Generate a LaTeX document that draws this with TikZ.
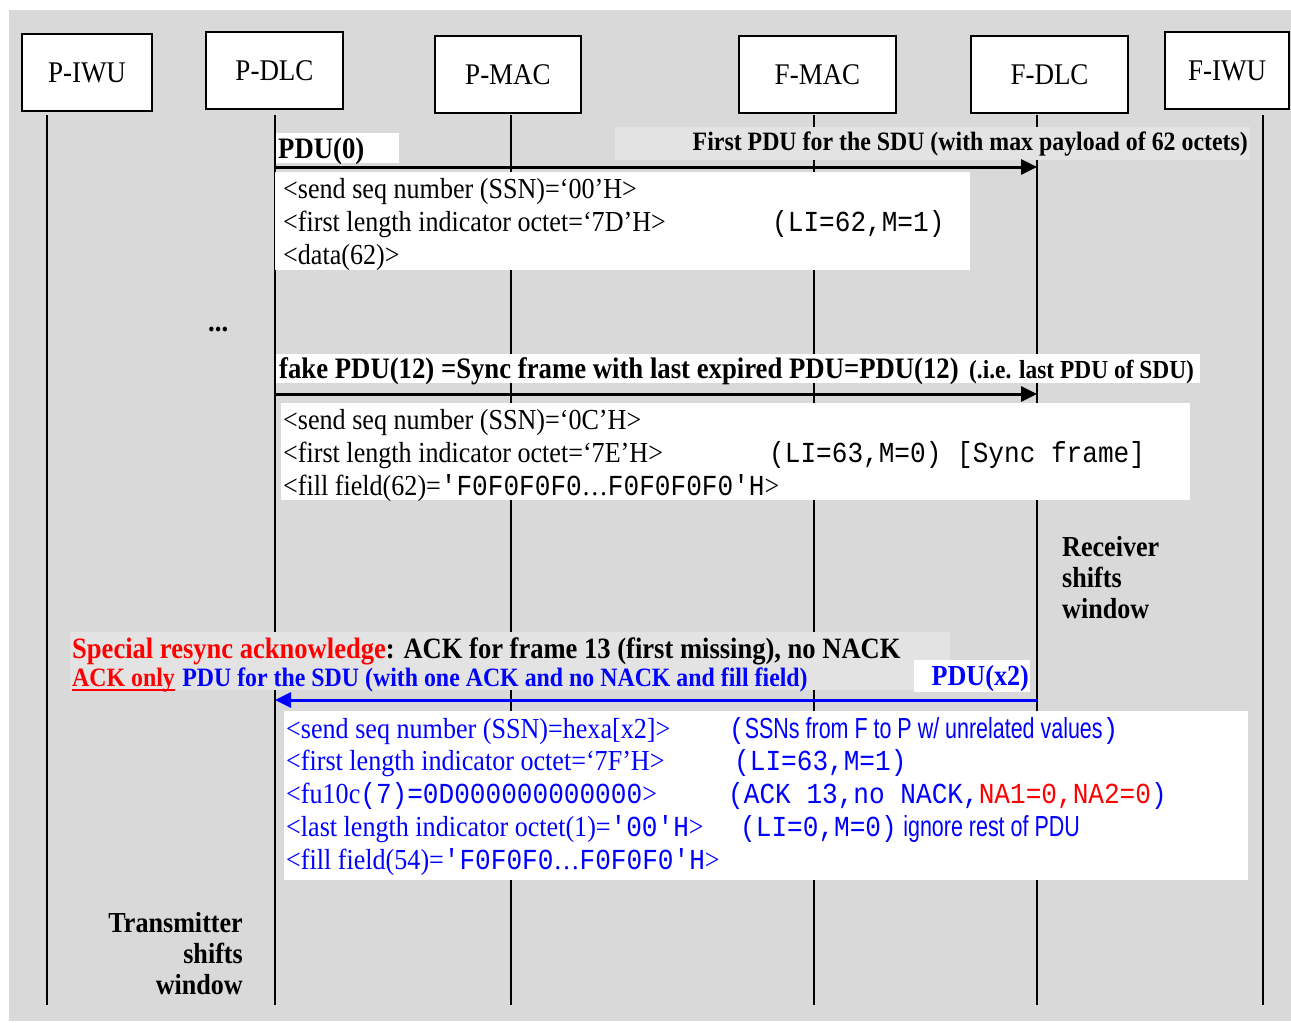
\documentclass[tikz,border=0pt]{standalone}
\usepackage{fontspec}
\setmainfont{Liberation Serif}[FakeStretch=0.9]
\setmonofont{Liberation Mono}[FakeStretch=0.9]
\newfontfamily\narrowsf{Liberation Sans}[FakeStretch=0.74]
\usetikzlibrary{arrows.meta,positioning}
\definecolor{bggray}{RGB}{217,217,217}
\definecolor{lightbox}{RGB}{227,227,227}
\tikzset{
  entity/.style={draw=black, line width=1.8pt, fill=white, inner sep=0pt,
    font=\fontsize{30}{36}\selectfont},
  lifeline/.style={line width=1.7pt},
  msg/.style={line width=3pt, -{Triangle[length=16pt,width=15pt]}},
  whitebox/.style={fill=white, inner sep=0pt, anchor=north west},
  greybox/.style={fill=lightbox, inner sep=0pt, anchor=north west},
  txt/.style={anchor=base west, inner sep=0pt, font=\fontsize{29}{33}\selectfont},
  bigbold/.style={txt, font=\fontsize{29.7}{33}\selectfont\bfseries},
  smallbold/.style={txt, font=\fontsize{26.5}{30}\selectfont\bfseries}
}
\newcommand{\mono}[1]{{\ttfamily\fontsize{29}{33}\selectfont #1}}
\begin{document}
\begin{tikzpicture}[x=1pt,y=-1pt]
\useasboundingbox (0,0) rectangle (1291,1023);
\fill[bggray] (9,10) rectangle (1291,1021);
% entities
\node[entity, minimum width=130pt, minimum height=77pt] (piwu) at (87,72.5) {P-IWU};
\node[entity, minimum width=137pt, minimum height=77pt] (pdlc) at (274.5,70.5) {P-DLC};
\node[entity, minimum width=146pt, minimum height=77pt] (pmac) at (508,74.5) {P-MAC};
\node[entity, minimum width=157pt, minimum height=77pt] (fmac) at (817.5,74.5) {F-MAC};
\node[entity, minimum width=157pt, minimum height=77pt] (fdlc) at (1049.5,74.5) {F-DLC};
\node[entity, minimum width=124pt, minimum height=77pt] (fiwu) at (1227,70.5) {F-IWU};
% lifelines
\foreach \n/\x in {piwu/47,pdlc/275,pmac/511,fmac/814,fdlc/1037,fiwu/1263}
  \draw[lifeline] (\x,115) coordinate (\n-top) -- (\x,1005) coordinate (\n-bot);

% first PDU
\node[whitebox, minimum width=123pt, minimum height=30pt] (pdu0lbl) at (276,133) {};
\node[bigbold] (pdu0) at (278,158) {PDU(0)};
\node[greybox, minimum width=635pt, minimum height=33pt] (firstbg) at (615,127) {};
\node[smallbold, anchor=base east] (firstpdu) at (1248,150) {First PDU for the SDU (with max payload of 62 octets)};
\coordinate (m1a) at (275,167);
\coordinate (m1b) at (1037,167);
\draw[msg] (m1a) -- (m1b);
\node[whitebox, minimum width=695pt, minimum height=98pt] (pdu0box) at (275,172) {};
\node[txt] (s1) at (283,198) {<send seq number (SSN)=‘00’H>};
\node[txt] (s2) at (283,231) {<first length indicator octet=‘7D’H>};
\node[txt] (s2b) at (772,231) {\mono{(LI=62,M=1)}};
\node[txt] (s3) at (283,264) {<data(62)>};

\node[bigbold] (dots) at (208,331) {...};

% sync frame
\node[whitebox, minimum width=924pt, minimum height=29pt] (synclbl) at (276,354) {};
\node[bigbold] (sync) at (279,378) {fake PDU(12) =Sync frame with last expired PDU=PDU(12)};
\node[smallbold, font=\fontsize{26}{30}\selectfont\bfseries] (syncnote) at ([xshift=10pt]sync.base east) {(.i.e. last PDU of SDU)};
\coordinate (m2a) at (275,394);
\coordinate (m2b) at (1037,394);
\draw[msg] (m2a) -- (m2b);
\node[whitebox, minimum width=909pt, minimum height=97pt] (syncbox) at (281,403) {};
\node[txt] (f1) at (283,429) {<send seq number (SSN)=‘0C’H>};
\node[txt] (f2) at (283,462) {<first length indicator octet=‘7E’H>};
\node[txt] (f2b) at (769,462) {\mono{(LI=63,M=0) [Sync frame]}};
\node[txt] (f3) at (283,495) {<fill field(62)=\mono{'F0F0F0F0}…\mono{F0F0F0F0'H}>};

\node[bigbold, align=left, anchor=north west, font=\fontsize{29}{31}\selectfont\bfseries] (recv) at (1062,536) {Receiver\\shifts\\window};

% ack frame
\node[greybox, minimum width=880pt, minimum height=58pt] (ackbg) at (70,632) {};
\node[bigbold, font=\fontsize{29.5}{33}\selectfont\bfseries] (ackhead) at (72,658) {\textcolor{red}{Special resync acknowledge}: ACK for frame 13 (first missing), no NACK};
\node[smallbold, text=red] (ackonly) at (72,686) {ACK only};
\draw[red, line width=2.5pt] ([yshift=-4pt]ackonly.base west) -- ([yshift=-4pt]ackonly.base east);
\node[smallbold, text=blue] (ackrest) at ([xshift=7pt]ackonly.base east) {PDU for the SDU (with one ACK and no NACK and fill field)};
\node[whitebox, minimum width=116pt, minimum height=32pt] (pdux2lbl) at (914,660) {};
\node[smallbold, font=\fontsize{29}{30}\selectfont\bfseries, text=blue, anchor=base east] (pdux2) at (1029,685) {PDU(x2)};
\coordinate (m3a) at (1037,700);
\coordinate (m3b) at (275,700);
\draw[msg, blue] (m3a) -- (m3b);
\node[whitebox, minimum width=964pt, minimum height=169pt] (ackbox) at (284,711) {};
\begin{scope}[every node/.append style={text=blue}]
\node[txt] (a1) at (286,738) {<send seq number (SSN)=hexa[x2]>};
\node[txt] (a1b) at (729,738) {\mono{(}{\narrowsf\fontsize{29}{33}\selectfont SSNs from F to P w/ unrelated values}\mono{)}};
\node[txt] (a2) at (286,770) {<first length indicator octet=‘7F’H>};
\node[txt] (a2b) at (734,770) {\mono{(LI=63,M=1)}};
\node[txt] (a3) at (286,803) {<fu10c\mono{(7)=0D000000000000}>};
\node[txt] (a3b) at (728,803) {\mono{(ACK 13,no NACK,\textcolor{red}{NA1=0,NA2=0})}};
\node[txt] (a4) at (286,836) {<last length indicator octet(1)=\mono{'00'H}>};
\node[txt] (a4b) at (740,836) {\mono{(LI=0,M=0)} {\narrowsf\fontsize{29}{33}\selectfont ignore rest of PDU}};
\node[txt] (a5) at (286,869) {<fill field(54)=\mono{'F0F0F0}…\mono{F0F0F0'H}>};
\end{scope}

\node[bigbold, align=right, anchor=north east, font=\fontsize{29}{31}\selectfont\bfseries] (trans) at (243,912) {Transmitter\\shifts\\window};
\end{tikzpicture}
\end{document}
